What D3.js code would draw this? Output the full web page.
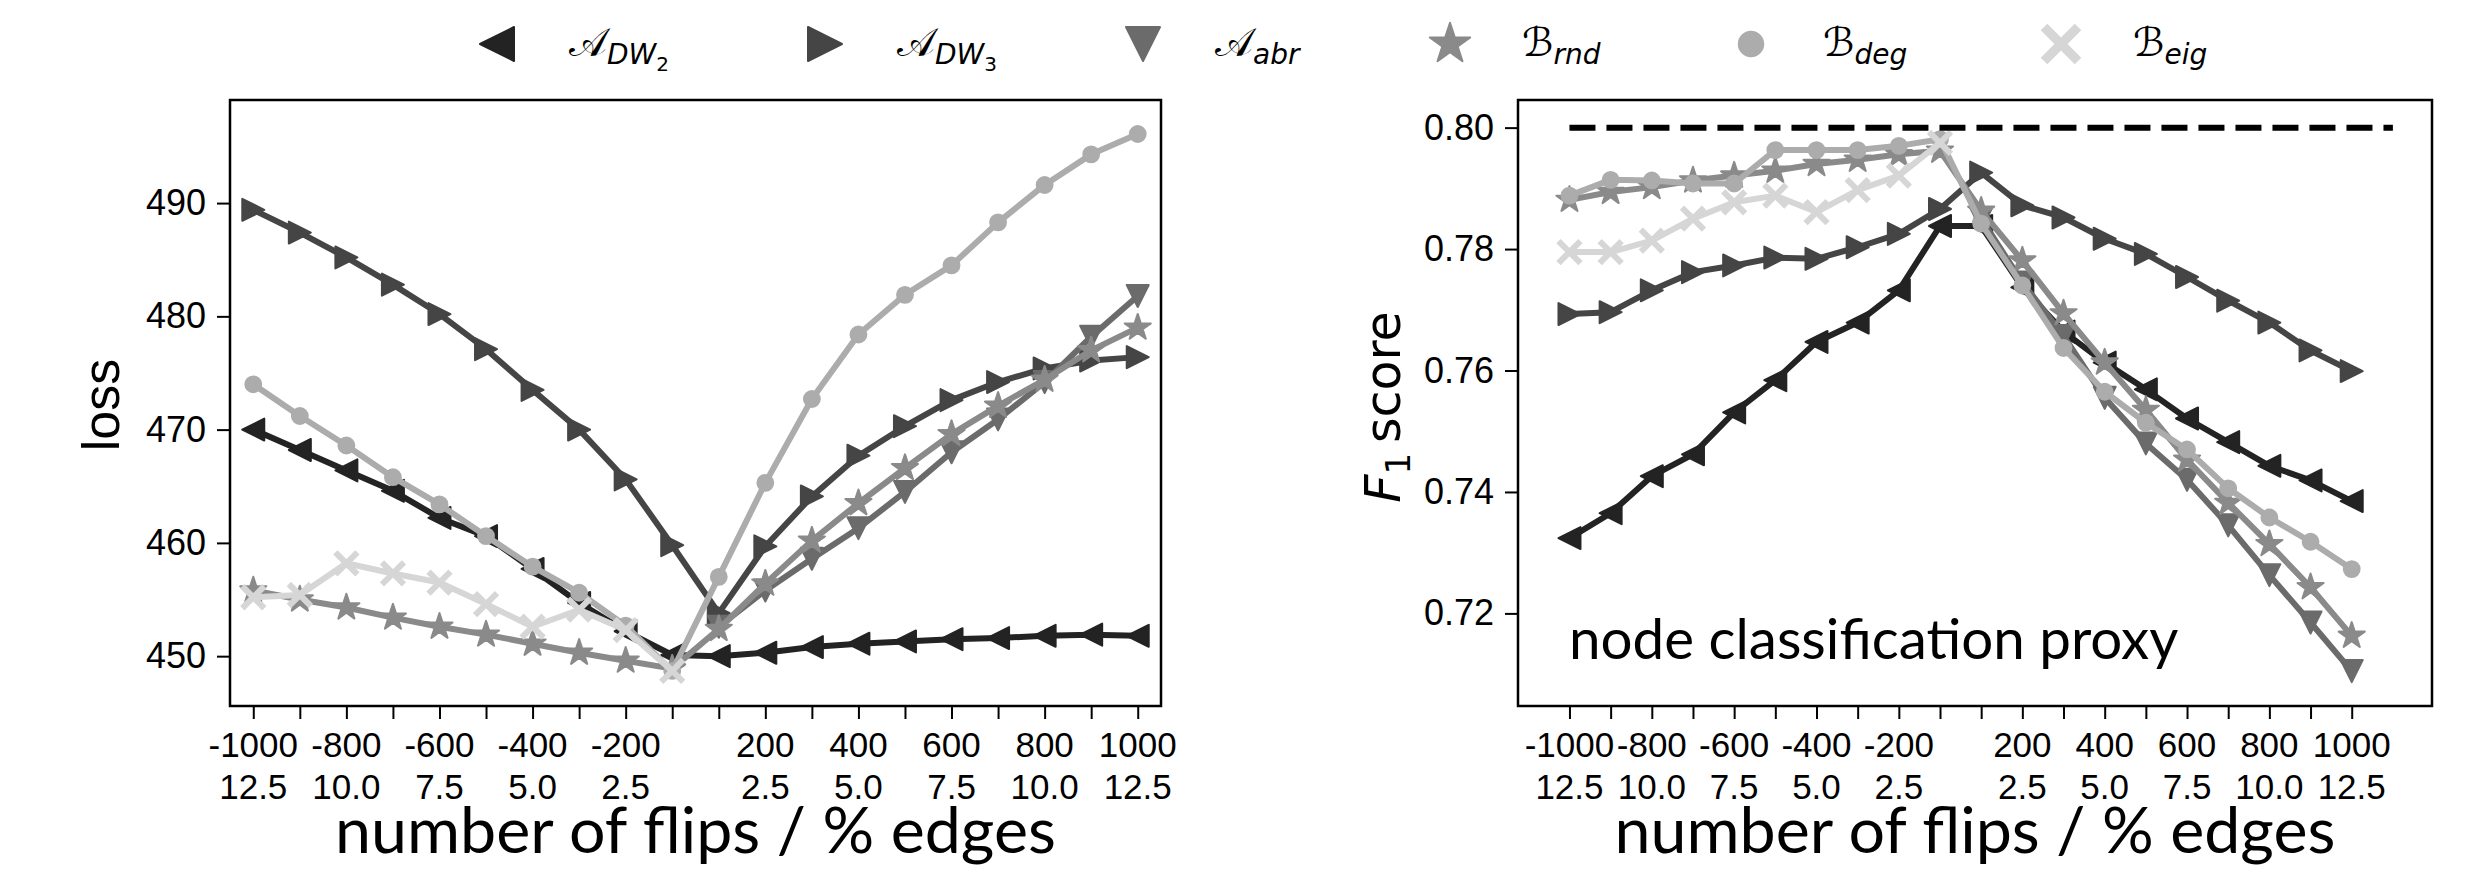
<!DOCTYPE html>
<html>
<head>
<meta charset="utf-8">
<script src="https://cdn.jsdelivr.net/npm/d3@7"></script>
<style>
body { margin: 0; background: #fff; }
svg text { font-family: "Liberation Sans", Arial, sans-serif; fill: #000; }
</style>
</head>
<body>
<div id="chart"></div>
<script>
// --- data ---
const flips = [-1000, -900, -800, -700, -600, -500, -400, -300, -200, -100,
               100, 200, 300, 400, 500, 600, 700, 800, 900, 1000];
const tickFlips = [-1000, -800, -600, -400, -200, 200, 400, 600, 800, 1000];
const tickPct = ["12.5", "10.0", "7.5", "5.0", "2.5", "2.5", "5.0", "7.5", "10.0", "12.5"];

const lossTicks = [450, 460, 470, 480, 490];
const f1Ticks = [0.72, 0.74, 0.76, 0.78, 0.80];
const f1Clean = 0.80;

const lossADW2 = [470.0, 468.2, 466.4, 464.6, 462.2, 460.6, 457.7, 454.7, 452.2, 450.1,
                  450.0, 450.3, 450.8, 451.1, 451.3, 451.5, 451.6, 451.8, 451.9, 451.8];
const lossADW3 = [489.4, 487.4, 485.2, 482.8, 480.2, 477.1, 473.5, 470.0, 465.6, 459.8,
                  453.8, 459.7, 464.1, 467.7, 470.3, 472.6, 474.2, 475.4, 476.1, 476.4];
const lossAabr = [null, null, null, null, null, null, null, null, null, null,
                  452.6, 455.8, 458.6, 461.3, 464.5, 468.0, 470.9, 474.2, 478.2, 481.8];
const lossBrnd = [455.8, 455.0, 454.3, 453.4, 452.6, 451.9, 451.1, 450.3, 449.6, 448.9,
                  452.4, 456.4, 460.2, 463.5, 466.6, 469.6, 472.1, 474.4, 477.0, 479.0];
const lossBdeg = [474.0, 471.2, 468.6, 465.8, 463.4, 460.6, 457.9, 455.6, 452.7, 448.7,
                  457.0, 465.3, 472.7, 478.4, 481.9, 484.5, 488.3, 491.6, 494.3, 496.1];
const lossBeig = [455.2, 455.4, 458.2, 457.3, 456.5, 454.6, 452.6, 454.1, 452.3, 448.7,
                  null, null, null, null, null, null, null, null, null, null];

const f1ADW2 = [0.7324, 0.7365, 0.7426, 0.7462, 0.7531, 0.7584, 0.7647, 0.7679, 0.7732, 0.7838,
                0.7838, 0.7737, 0.7664, 0.7613, 0.7569, 0.7521, 0.7482, 0.7443, 0.7419, 0.7385];
const f1ADW3 = [0.7693, 0.7696, 0.7732, 0.7762, 0.7773, 0.7786, 0.7784, 0.7803, 0.7825, 0.7866,
                0.7926, 0.7872, 0.7852, 0.7817, 0.7792, 0.7754, 0.7715, 0.7679, 0.7633, 0.7599];
const f1Aabr = [null, null, null, null, null, null, null, null, null, null,
                0.7850, 0.7745, 0.7657, 0.7555, 0.7480, 0.7420, 0.7345, 0.7263, 0.7185, 0.7105];
const f1Brnd = [0.7881, 0.7894, 0.7902, 0.7913, 0.7921, 0.7929, 0.7940, 0.7947, 0.7956, 0.7962,
                0.7863, 0.7781, 0.7694, 0.7613, 0.7535, 0.7453, 0.7382, 0.7314, 0.7243, 0.7163];
const f1Bdeg = [0.7888, 0.7914, 0.7913, 0.7908, 0.7908, 0.7963, 0.7963, 0.7963, 0.7970, 0.7981,
                0.7842, 0.7740, 0.7637, 0.7565, 0.7514, 0.7470, 0.7406, 0.7358, 0.7318, 0.7273];
const f1Beig = [0.7795, 0.7795, 0.7814, 0.7850, 0.7877, 0.7888, 0.7861, 0.7897, 0.7921, 0.7975,
                null, null, null, null, null, null, null, null, null, null];

// --- style per series (drawing order = legend order) ---
const seriesStyle = [
    { letter: "\u{1D49C}", sub: "DW", subsub: "2", color: "#232323", shape: "left" },
    { letter: "\u{1D49C}", sub: "DW", subsub: "3", color: "#454545", shape: "right" },
    { letter: "\u{1D49C}", sub: "abr", subsub: "", color: "#6b6b6b", shape: "down" },
    { letter: "\u212C", sub: "rnd", subsub: "", color: "#8a8a8a", shape: "star" },
    { letter: "\u212C", sub: "deg", subsub: "", color: "#acacac", shape: "circle" },
    { letter: "\u212C", sub: "eig", subsub: "", color: "#d6d6d6", shape: "x" }
];
const lossSeries = [lossADW2, lossADW3, lossAabr, lossBrnd, lossBdeg, lossBeig];
const f1Series = [f1ADW2, f1ADW3, f1Aabr, f1Brnd, f1Bdeg, f1Beig];

const W = 2490, H = 872;

const svg = d3.select('#chart').append('svg')
    .attr('width', W).attr('height', H);

function markerPath(shape, s) {
    if (shape === 'left') return `M${-s},0L${s},${-s}L${s},${s}Z`;
    if (shape === 'right') return `M${s},0L${-s},${-s}L${-s},${s}Z`;
    if (shape === 'down') return `M0,${s}L${-s},${-s}L${s},${-s}Z`;
    if (shape === 'star') return d3.symbol(d3.symbolStar, (s * 1.25) * (s * 1.25) / 0.8908)();
    if (shape === 'circle') return d3.symbol(d3.symbolCircle, Math.PI * (s * 0.72) * (s * 0.72))();
    return `M${-s},${-s}L${s},${s}M${-s},${s}L${s},${-s}`;
}

function drawMarker(g, shape, color, s) {
    const p = g.append('path').attr('d', markerPath(shape, s));
    if (shape === 'x') {
        p.attr('fill', 'none').attr('stroke', color).attr('stroke-width', s * 0.55);
    } else {
        p.attr('fill', color).attr('stroke', color).attr('stroke-width', 2)
            .attr('stroke-linejoin', 'round');
    }
    return p;
}

function drawPanel(box, xDomain, yDomain, yTicks, yFmt, seriesList) {
    const x = d3.scaleLinear().domain(xDomain).range([box.x0, box.x1]);
    const y = d3.scaleLinear().domain(yDomain).range([box.y1, box.y0]);
    const g = svg.append('g');

    const clipId = 'clip' + box.x0;
    svg.append('clipPath').attr('id', clipId).append('rect')
        .attr('x', box.x0).attr('y', box.y0)
        .attr('width', box.x1 - box.x0).attr('height', box.y1 - box.y0);
    const plot = g.append('g').attr('clip-path', `url(#${clipId})`);

    seriesList.forEach((vals, si) => {
        const st = seriesStyle[si];
        const pts = vals.map((v, i) => ({ i, v })).filter(d => d.v !== null);
        const line = d3.line().x(d => x(d.i)).y(d => y(d.v));
        const sg = plot.append('g');
        sg.append('path').datum(pts)
            .attr('d', line)
            .attr('fill', 'none')
            .attr('stroke', st.color)
            .attr('stroke-width', 6)
            .attr('stroke-linejoin', 'round');
        pts.forEach(d => {
            const mg = sg.append('g').attr('transform', `translate(${x(d.i)},${y(d.v)})`);
            drawMarker(mg, st.shape, st.color, 11);
        });
    });

    // frame
    g.append('rect')
        .attr('x', box.x0).attr('y', box.y0)
        .attr('width', box.x1 - box.x0).attr('height', box.y1 - box.y0)
        .attr('fill', 'none').attr('stroke', '#000').attr('stroke-width', 2.5);

    // x axis: one tick per point, labels on some
    const xAxis = g.append('g').attr('transform', `translate(0,${box.y1})`)
        .call(d3.axisBottom(x).tickValues(d3.range(flips.length)).tickSize(13));
    xAxis.select('.domain').remove();
    xAxis.selectAll('.tick text').remove();
    xAxis.selectAll('.tick line').attr('stroke', '#000').attr('stroke-width', 2);

    // two label rows: flips and % edges
    tickFlips.forEach((f, k) => {
        const xi = x(flips.indexOf(f));
        g.append('text').attr('class', 'xlab-flips')
            .attr('x', xi).attr('y', box.y1 + 51)
            .attr('text-anchor', 'middle').style('font-size', '35px')
            .text(String(f));
        g.append('text').attr('class', 'xlab-pct')
            .attr('x', xi).attr('y', box.y1 + 93)
            .attr('text-anchor', 'middle').style('font-size', '35px')
            .text(tickPct[k]);
    });

    const yAxis = g.append('g').attr('transform', `translate(${box.x0},0)`)
        .call(d3.axisLeft(y).tickValues(yTicks).tickSize(13).tickPadding(11).tickFormat(yFmt));
    yAxis.select('.domain').remove();
    yAxis.selectAll('.tick line').attr('stroke', '#000').attr('stroke-width', 2);
    yAxis.selectAll('.tick text')
        .style('font-size', '36px')
        .style('font-family', '"Liberation Sans", Arial, sans-serif')
        .attr('fill', '#000');

    g.append('text')
        .attr('x', (box.x0 + box.x1) / 2).attr('y', box.y1 + 147)
        .attr('text-anchor', 'middle')
        .style('font-family', 'Lato, "Open Sans", sans-serif')
        .style('font-size', '64.5px')
        .text('number of flips / % edges');

    return { x, y, g, plot };
}

const left = drawPanel({ x0: 230, x1: 1161, y0: 100, y1: 706 }, [-0.5, 19.5], [445.6, 499.1],
    lossTicks, d3.format('d'), lossSeries);

const right = drawPanel({ x0: 1518, x1: 2432, y0: 100, y1: 706 }, [-1.25, 20.95], [0.70475, 0.80455],
    f1Ticks, d3.format('.2f'), f1Series);

// clean F1 reference line
right.plot.append('line')
    .attr('x1', right.x(0)).attr('x2', right.x(20))
    .attr('y1', right.y(f1Clean)).attr('y2', right.y(f1Clean))
    .attr('stroke', '#000').attr('stroke-width', 6)
    .attr('stroke-dasharray', '26,11');

right.g.append('text')
    .attr('x', 1569).attr('y', 659)
    .style('font-family', 'Lato, "Open Sans", sans-serif')
    .style('font-size', '56.5px')
    .text('node classification proxy');

// y labels
svg.append('text')
    .attr('transform', 'translate(119,405) rotate(-90)')
    .attr('text-anchor', 'middle')
    .style('font-size', '52px')
    .text('loss');

const f1Lab = svg.append('text')
    .attr('transform', 'translate(1400,407) rotate(-90)')
    .attr('text-anchor', 'middle')
    .style('font-family', '"DejaVu Sans", sans-serif')
    .style('font-size', '49px');
f1Lab.append('tspan').style('font-style', 'italic').text('F');
f1Lab.append('tspan').attr('dy', 10).style('font-size', '34px').text('1');
f1Lab.append('tspan').attr('dy', -10).text('\u2009score');

// legend
const legendMarkerX = [497, 825, 1143, 1450, 1751, 2061];
const legendY = 44;
seriesStyle.forEach((st, i) => {
    const lg = svg.append('g').attr('transform', `translate(${legendMarkerX[i]},${legendY})`);
    drawMarker(lg, st.shape, st.color, 17);
    const t = lg.append('text').attr('x', 72).attr('y', 12)
        .style('font-family', '"DejaVu Serif", "DejaVu Sans", serif');
    t.append('tspan').style('font-size', '40px').text(st.letter);
    t.append('tspan').attr('dy', 8).style('font-size', '28px').style('font-style', 'italic')
        .style('font-family', '"DejaVu Sans", sans-serif').text(st.sub);
    if (st.subsub) {
        t.append('tspan').attr('dy', 7).style('font-size', '20px')
            .style('font-family', '"DejaVu Sans", sans-serif').text(st.subsub);
    }
});
</script>
</body>
</html>
